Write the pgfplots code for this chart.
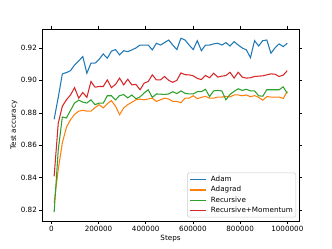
\documentclass[border=0pt]{standalone}
\usepackage{fontspec}
\setmainfont{DejaVu Sans}
\usepackage{pgfplots}
\usepackage{pgfplotstable}
\pgfplotsset{compat=1.18}
\definecolor{cA}{HTML}{1F77B4}
\definecolor{cB}{HTML}{FF7F0E}
\definecolor{cC}{HTML}{2CA02C}
\definecolor{cD}{HTML}{D62728}

\pgfplotstableread{
step adam adagrad rec recmom
12000 0.876 0.8245 0.8187 0.8408
29330 0.8895 0.845 0.857 0.8735
46660 0.904 0.8614 0.8774 0.884
63990 0.9048 0.871 0.8768 0.888
81320 0.906 0.8757 0.8815 0.891
98650 0.9095 0.879 0.886 0.8955
115980 0.912 0.881 0.8878 0.889
133310 0.9147 0.8815 0.8866 0.8925
150640 0.9044 0.881 0.886 0.8895
167970 0.9106 0.881 0.888 0.8993
185300 0.9106 0.8832 0.885 0.8958
202630 0.913 0.885 0.886 0.8962
219960 0.9163 0.883 0.8859 0.8962
237290 0.9137 0.8856 0.8905 0.9003
254620 0.918 0.8875 0.8905 0.8955
271950 0.919 0.884 0.888 0.8975
289280 0.9157 0.8788 0.8906 0.9014
306610 0.9183 0.883 0.8912 0.8972
323940 0.9177 0.885 0.8892 0.9007
341270 0.9188 0.8865 0.891 0.8972
358600 0.920 0.888 0.8886 0.8975
375930 0.9218 0.8884 0.8898 0.8942
393260 0.9218 0.888 0.8922 0.8983
410590 0.9218 0.8885 0.8942 0.8993
427920 0.9188 0.889 0.8895 0.9034
445250 0.9229 0.887 0.8916 0.9003
462580 0.9218 0.888 0.8915 0.9003
479910 0.9233 0.889 0.8913 0.9024
497240 0.9249 0.8885 0.8916 0.900
514570 0.9218 0.887 0.893 0.8988
531900 0.919 0.887 0.8918 0.900
549230 0.926 0.8862 0.8935 0.9046
566560 0.9249 0.889 0.892 0.9035
583890 0.9218 0.889 0.8916 0.9034
601220 0.919 0.8905 0.8916 0.9028
618550 0.9245 0.8887 0.893 0.9012
635880 0.9183 0.8895 0.893 0.9005
653210 0.9218 0.8901 0.8945 0.903
670540 0.9218 0.889 0.890 0.9016
687870 0.9225 0.889 0.8935 0.9044
705200 0.9229 0.8897 0.8938 0.902
722530 0.9218 0.8897 0.8935 0.9026
739860 0.9233 0.8901 0.888 0.903
757190 0.9212 0.8898 0.8913 0.905
774520 0.9239 0.891 0.8932 0.9014
791850 0.9218 0.891 0.8948 0.905
809180 0.920 0.8905 0.8938 0.902
826510 0.9188 0.891 0.8945 0.9014
843840 0.914 0.8899 0.8935 0.9016
861170 0.9245 0.8906 0.8935 0.9024
878500 0.9212 0.8895 0.8905 0.9026
895830 0.9245 0.8878 0.8902 0.9028
913160 0.9249 0.890 0.8942 0.9034
930490 0.9167 0.8897 0.8942 0.904
947820 0.920 0.8897 0.8942 0.9038
965150 0.9225 0.8897 0.8942 0.9024
982480 0.9208 0.8888 0.896 0.9032
999810 0.9229 0.8932 0.892 0.906
}\data

\begin{document}
\fontsize{7.2}{8.6}\selectfont
\begin{tikzpicture}
\path[use as bounding box] (0,0) rectangle (332pt,249pt);
\begin{axis}[
  at={(42pt,28pt)}, anchor=south west,
  width=257pt, height=192pt, scale only axis,
  xmin=-39500, xmax=1049500,
  ymin=0.8132, ymax=0.9317,
  xtick={0,200000,400000,600000,800000,1000000},
  ytick={0.82,0.84,0.86,0.88,0.90,0.92},
  scaled x ticks=false, scaled y ticks=false,
  xticklabel style={/pgf/number format/fixed, /pgf/number format/1000 sep={}},
  yticklabel style={/pgf/number format/fixed, /pgf/number format/fixed zerofill, /pgf/number format/precision=2},
  /pgf/number format/assume math mode=true,
  tick align=outside, major tick length=2.5pt,
  tick style={black, line width=0.5pt},
  axis line style={black, line width=0.55pt},
  every tick label/.append style={font=\fontsize{7.2}{8.6}\selectfont},
  label style={font=\fontsize{7.2}{8.6}\selectfont},
  xlabel={Steps}, ylabel={Test accuracy},
  xlabel style={at={(axis description cs:0.5,-0.094)}, anchor=center},
  ylabel style={at={(axis description cs:-0.109,0.5)}, anchor=center},
  every axis plot/.append style={line width=1.05pt},
]
\addplot[cA, mark=none] table[x=step, y=adam] {\data};
\addplot[cB, mark=none] table[x=step, y=adagrad] {\data};
\addplot[cC, mark=none] table[x=step, y=rec] {\data};
\addplot[cD, mark=none] table[x=step, y=recmom] {\data};
% legend box
\draw[black!20, fill=white, line width=0.5pt, rounded corners=1.5pt]
  (axis description cs:0.5654,0.0208) rectangle (axis description cs:0.9883,0.25);
\draw[cA, line width=1.05pt] (axis description cs:0.5759,0.2151) -- (axis description cs:0.6381,0.2151);
\draw[cB, line width=1.05pt] (axis description cs:0.5759,0.1615) -- (axis description cs:0.6381,0.1615);
\draw[cC, line width=1.05pt] (axis description cs:0.5759,0.1078) -- (axis description cs:0.6381,0.1078);
\draw[cD, line width=1.05pt] (axis description cs:0.5759,0.0557) -- (axis description cs:0.6381,0.0557);
\node[anchor=mid west, inner sep=0pt, font=\fontsize{7.2}{8.6}\selectfont] at (axis description cs:0.6564,0.2151) {Adam};
\node[anchor=mid west, inner sep=0pt, font=\fontsize{7.2}{8.6}\selectfont] at (axis description cs:0.6564,0.1615) {Adagrad};
\node[anchor=mid west, inner sep=0pt, font=\fontsize{7.2}{8.6}\selectfont] at (axis description cs:0.6564,0.1078) {Recursive};
\node[anchor=mid west, inner sep=0pt, font=\fontsize{7.2}{8.6}\selectfont] at (axis description cs:0.6564,0.0557) {Recursive+Momentum};
\end{axis}
\end{tikzpicture}
\end{document}
